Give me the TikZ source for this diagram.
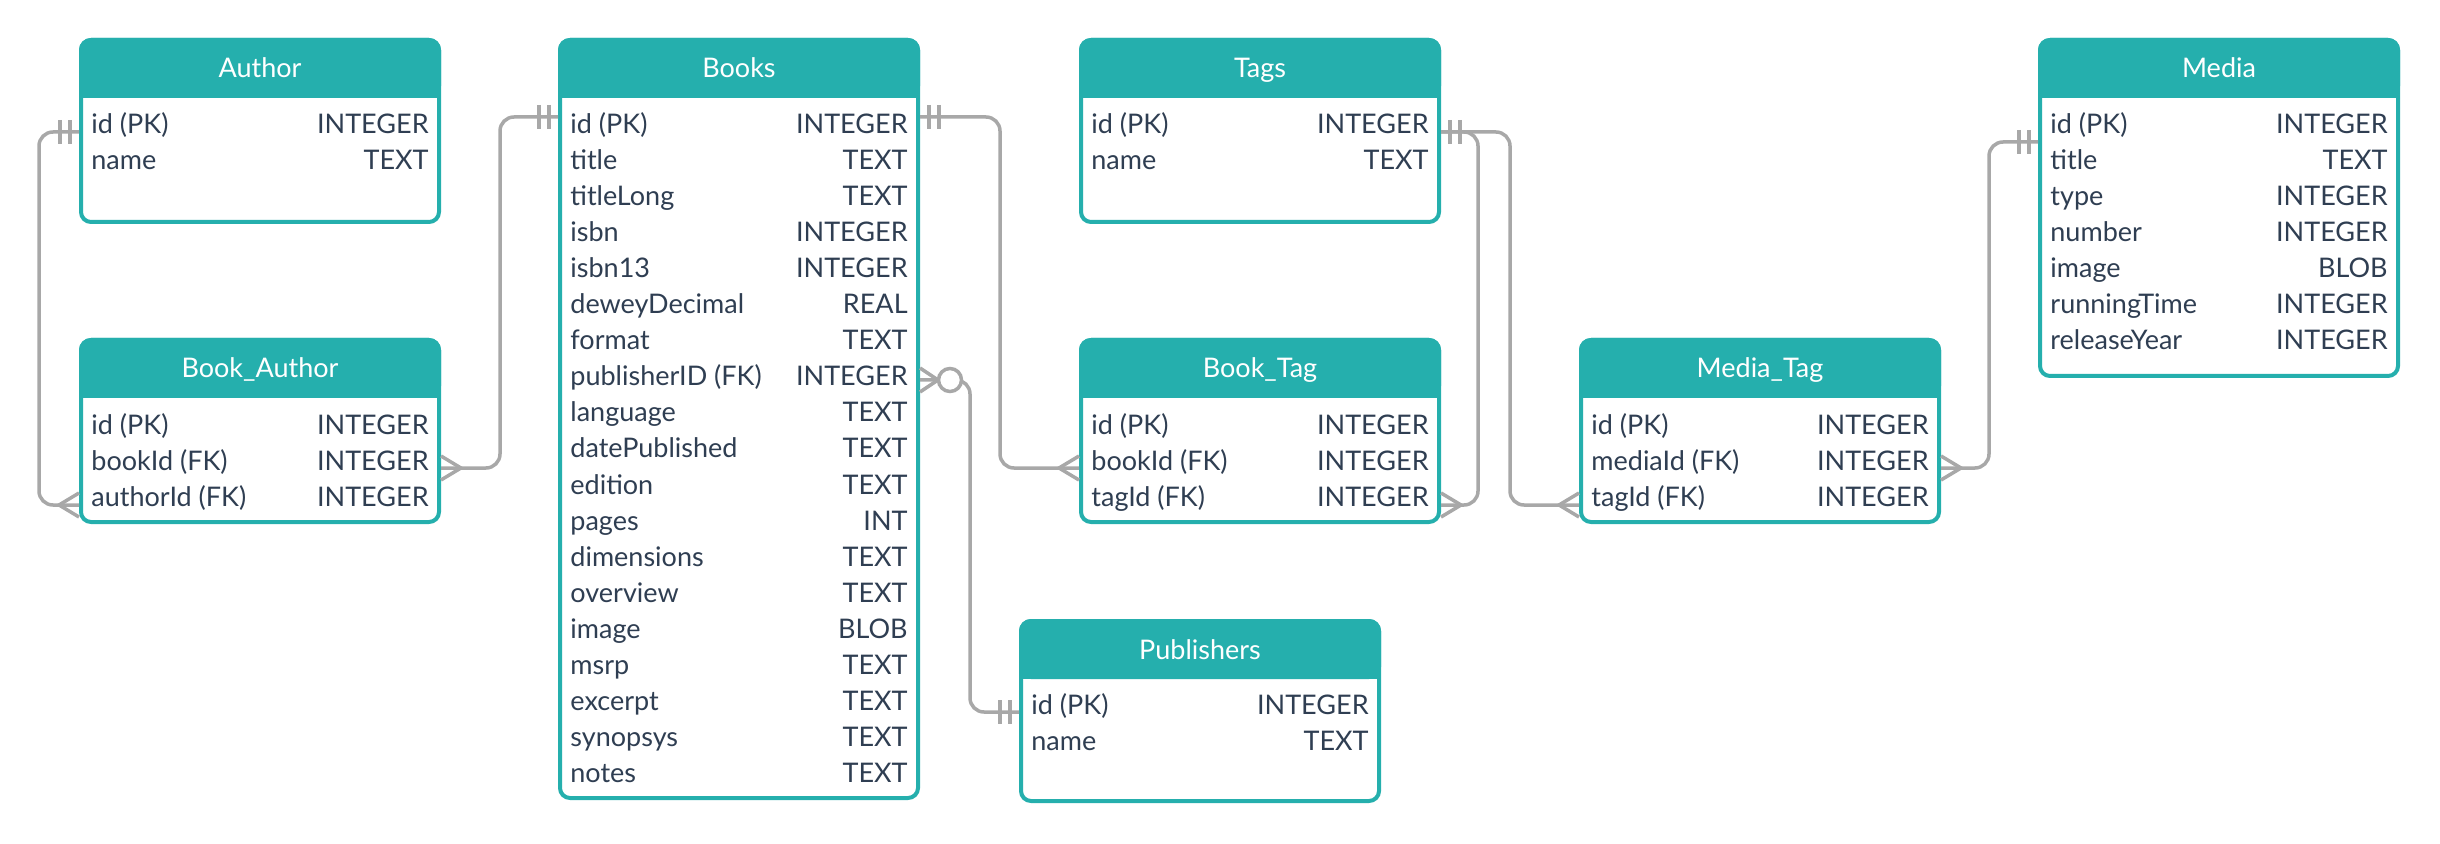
\documentclass[tikz,border=0pt]{standalone}
\usepackage{fontspec}
\setmainfont{Lato}
\usetikzlibrary{calc}
\definecolor{hdr}{HTML}{25AFAD}
\definecolor{txt}{HTML}{2F3E52}
\definecolor{lnk}{HTML}{A8A8A8}
\tikzset{
 tbox/.style={draw=hdr, fill=white, line width=2pt, rounded corners=5pt, inner sep=0pt, outer sep=0pt, anchor=north west},
 ttl/.style={text=white, anchor=base, inner sep=0pt, font=\fontsize{13.5}{16}\selectfont},
 fname/.style={text=txt, anchor=base west, inner sep=0pt, font=\fontsize{13.5}{16}\selectfont},
 ftype/.style={text=txt, anchor=base east, inner sep=0pt, font=\fontsize{13.5}{16}\selectfont},
 pinst/.style={inner sep=0pt, outer sep=0pt, minimum height=0pt},
 conn/.style={draw=lnk, line width=1.75pt, rounded corners=7pt},
 mk/.style={draw=lnk, line width=1.75pt},
}
% #1 name, #2 x1, #3 y1, #4 x2, #5 y2, #6 title
\newcommand\ertable[6]{%
 \node[tbox, minimum width={(#4-#2-4)*0.5pt}, minimum height={(#5-#3-4)*0.5pt}] (#1) at ({#2+2},{#3+2}) {};
 \fill[hdr, rounded corners=6pt] (#2,#3) rectangle (#4,{#3+60});
 \fill[hdr] (#2,{#3+40}) rectangle (#4,{#3+60});
 \node[ttl] (#1-title) at ({(#2+#4)/2},{#3+40}) {#6};
}
% #1 table, #2 key, #3 x1, #4 x2, #5 baseline, #6 name, #7 type
\newcommand\fld[7]{%
 \node[fname] (#1-#2-name) at ({#3+12},{#5}) {#6};
 \node[ftype] (#1-#2-type) at ({#4-12},{#5}) {#7};
}
% #1 pin name, #2 x1, #3 x2, #4 y
\newcommand\pin[4]{\node[pinst, minimum width={(#3-#2)*0.5pt}] (#1) at ({(#2+#3)/2},{#4}) {};}
\newcommand\onemark[2]{\draw[mk] ($(#1)+({#2*9},-12)$) -- ($(#1)+({#2*9},12)$) ($(#1)+({#2*19},-12)$) -- ($(#1)+({#2*19},12)$);}
\newcommand\manymark[2]{\draw[mk] ($(#1)+(0,-12)$) -- ($(#1)+({#2*20},0)$) -- ($(#1)+(0,12)$);}
\begin{document}
\begin{tikzpicture}[x=0.5pt,y=-0.5pt]
\useasboundingbox (0,0) rectangle (2440,844);
% Author
\ertable{author}{79}{38}{441}{224}{Author}
\fld{author}{id}{79}{441}{134}{id (PK)}{INTEGER}
\fld{author}{name}{79}{441}{170}{name}{TEXT}
\pin{author-id}{79}{441}{132}
% Book_Author
\ertable{ba}{79}{338}{441}{524}{Book\_Author}
\fld{ba}{id}{79}{441}{434}{id (PK)}{INTEGER}
\fld{ba}{bookid}{79}{441}{470}{bookId (FK)}{INTEGER}
\fld{ba}{authorid}{79}{441}{506}{authorId (FK)}{INTEGER}
\pin{ba-bookid}{79}{441}{468}
\pin{ba-authorid}{79}{441}{505}
% Books
\ertable{books}{558}{38}{920}{800}{Books}
\fld{books}{id}{558}{920}{134}{id (PK)}{INTEGER}
\fld{books}{title}{558}{920}{170}{title}{TEXT}
\fld{books}{titlelong}{558}{920}{206}{titleLong}{TEXT}
\fld{books}{isbn}{558}{920}{242}{isbn}{INTEGER}
\fld{books}{isbn13}{558}{920}{278}{isbn13}{INTEGER}
\fld{books}{dewey}{558}{920}{314}{deweyDecimal}{REAL}
\fld{books}{format}{558}{920}{350}{format}{TEXT}
\fld{books}{pub}{558}{920}{386}{publisherID (FK)}{INTEGER}
\fld{books}{language}{558}{920}{422}{language}{TEXT}
\fld{books}{date}{558}{920}{458}{datePublished}{TEXT}
\fld{books}{edition}{558}{920}{494}{edition}{TEXT}
\fld{books}{pages}{558}{920}{530}{pages}{INT}
\fld{books}{dim}{558}{920}{566}{dimensions}{TEXT}
\fld{books}{overview}{558}{920}{602}{overview}{TEXT}
\fld{books}{image}{558}{920}{638}{image}{BLOB}
\fld{books}{msrp}{558}{920}{674}{msrp}{TEXT}
\fld{books}{excerpt}{558}{920}{710}{excerpt}{TEXT}
\fld{books}{synopsys}{558}{920}{746}{synopsys}{TEXT}
\fld{books}{notes}{558}{920}{782}{notes}{TEXT}
\pin{books-id}{558}{920}{117}
\pin{books-pub}{558}{920}{380}
% Tags
\ertable{tags}{1079}{38}{1441}{224}{Tags}
\fld{tags}{id}{1079}{1441}{134}{id (PK)}{INTEGER}
\fld{tags}{name}{1079}{1441}{170}{name}{TEXT}
\pin{tags-id}{1079}{1441}{132}
% Book_Tag
\ertable{bt}{1079}{338}{1441}{524}{Book\_Tag}
\fld{bt}{id}{1079}{1441}{434}{id (PK)}{INTEGER}
\fld{bt}{bookid}{1079}{1441}{470}{bookId (FK)}{INTEGER}
\fld{bt}{tagid}{1079}{1441}{506}{tagId (FK)}{INTEGER}
\pin{bt-bookid}{1079}{1441}{468}
\pin{bt-tagid}{1079}{1441}{505}
% Publishers
\ertable{pub}{1019}{619}{1381}{803}{Publishers}
\fld{pub}{id}{1019}{1381}{714}{id (PK)}{INTEGER}
\fld{pub}{name}{1019}{1381}{750}{name}{TEXT}
\pin{pub-id}{1019}{1381}{712}
% Media_Tag
\ertable{mt}{1579}{338}{1941}{524}{Media\_Tag}
\fld{mt}{id}{1579}{1941}{434}{id (PK)}{INTEGER}
\fld{mt}{mediaid}{1579}{1941}{470}{mediaId (FK)}{INTEGER}
\fld{mt}{tagid}{1579}{1941}{506}{tagId (FK)}{INTEGER}
\pin{mt-mediaid}{1579}{1941}{468}
\pin{mt-tagid}{1579}{1941}{505}
% Media
\ertable{media}{2038}{38}{2400}{378}{Media}
\fld{media}{id}{2038}{2400}{134}{id (PK)}{INTEGER}
\fld{media}{title}{2038}{2400}{170}{title}{TEXT}
\fld{media}{type}{2038}{2400}{206}{type}{INTEGER}
\fld{media}{number}{2038}{2400}{242}{number}{INTEGER}
\fld{media}{image}{2038}{2400}{278}{image}{BLOB}
\fld{media}{running}{2038}{2400}{314}{runningTime}{INTEGER}
\fld{media}{release}{2038}{2400}{350}{releaseYear}{INTEGER}
\pin{media-id}{2038}{2400}{142}
% connectors
\draw[conn] (author-id.west) -- ++(-40,0) |- (ba-authorid.west);
\onemark{author-id.west}{-1}
\manymark{ba-authorid.west}{-1}
\draw[conn] (ba-bookid.east) -- ++(59,0) |- (books-id.west);
\manymark{ba-bookid.east}{1}
\onemark{books-id.west}{-1}
\draw[conn] (books-id.east) -- ++(80,0) |- (bt-bookid.west);
\onemark{books-id.east}{1}
\manymark{bt-bookid.west}{-1}
\draw[conn] (books-pub.east) -- ++(50,0) |- (pub-id.west);
\draw[mk] ($(books-pub.east)+(0,-12)$) -- ($(books-pub.east)+(18,0)$) -- ($(books-pub.east)+(0,12)$);
\draw[mk, fill=white] ($(books-pub.east)+(30,0)$) circle[radius=5.75pt];
\onemark{pub-id.west}{-1}
\draw[conn] (tags-id.east) -- ++(37,0) |- (bt-tagid.east);
\draw[conn] (tags-id.east) -- ++(69,0) |- (mt-tagid.west);
\onemark{tags-id.east}{1}
\manymark{bt-tagid.east}{1}
\manymark{mt-tagid.west}{-1}
\draw[conn] (mt-mediaid.east) -- ++(48,0) |- (media-id.west);
\manymark{mt-mediaid.east}{1}
\onemark{media-id.west}{-1}
\end{tikzpicture}
\end{document}
